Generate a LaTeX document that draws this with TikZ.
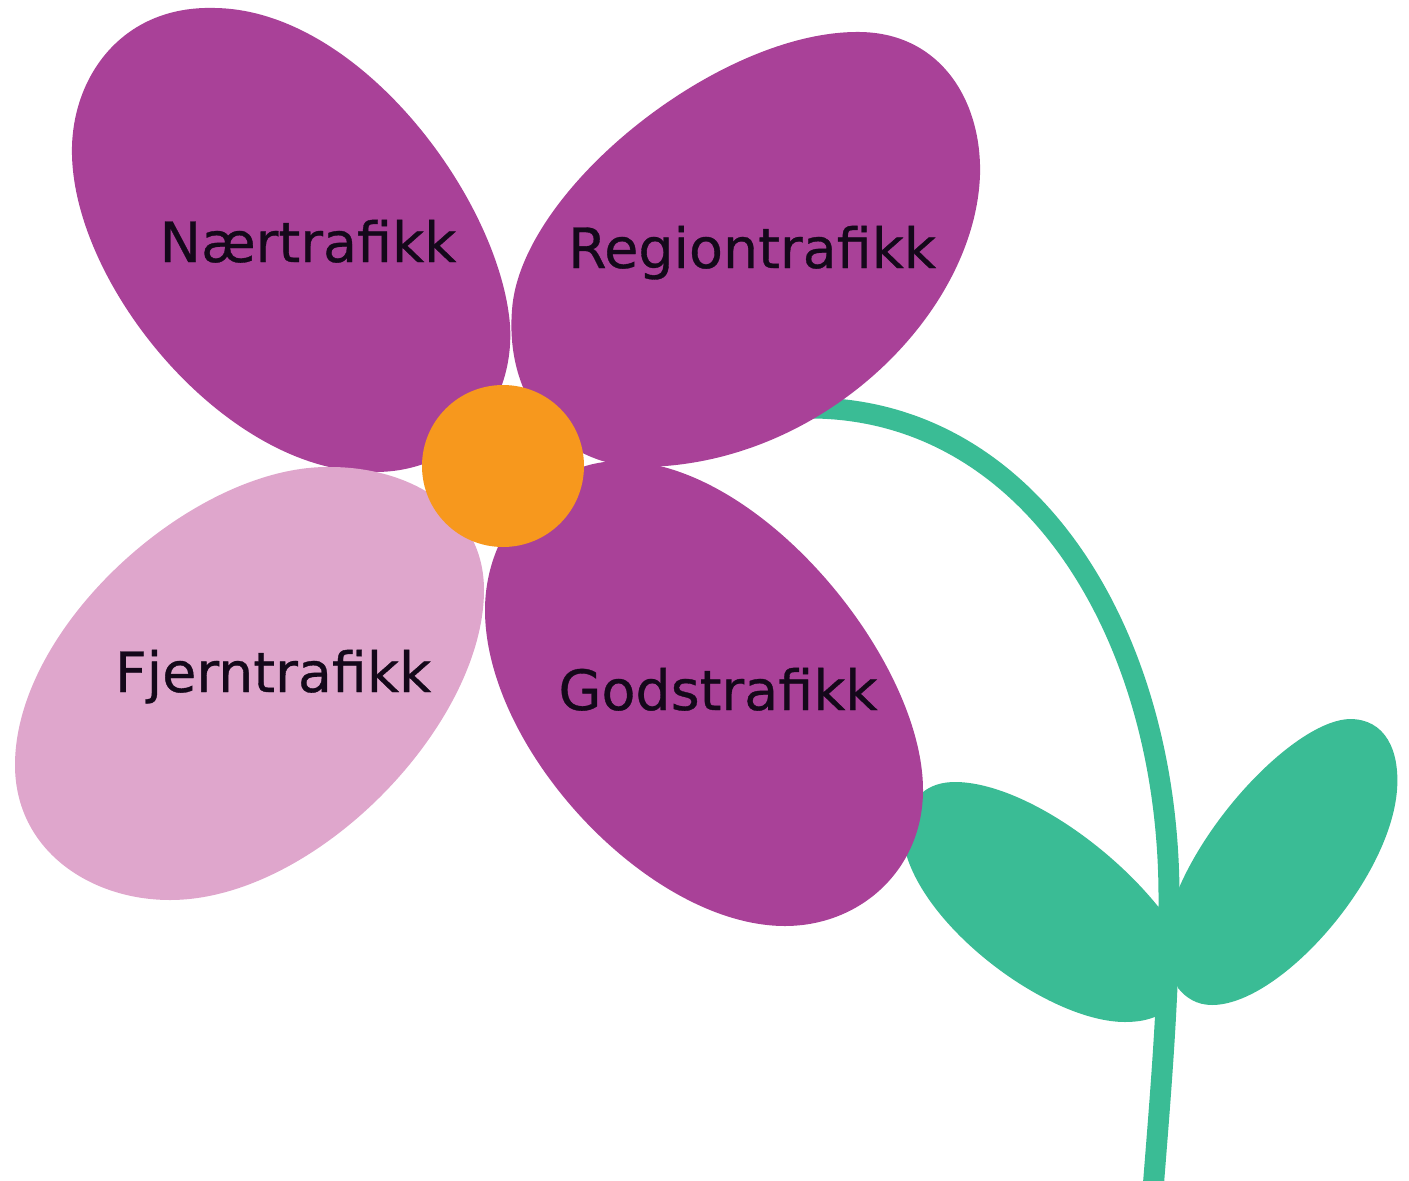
\documentclass[tikz,border=0pt]{standalone}
\usepackage{fontspec}
\setmainfont{DejaVu Sans}
\newfontfamily\lblfont[RawFeature={embolden=0.6}]{DejaVu Sans}
\definecolor{petal}{HTML}{A94198}
\definecolor{petallight}{HTML}{DFA6CC}
\definecolor{stemgreen}{HTML}{3ABC95}
\definecolor{core}{HTML}{F7981D}
\definecolor{ink}{HTML}{14081A}
\tikzset{
  lbl/.style={font=\lblfont\fontsize{55.5}{60}\selectfont,text=ink,inner sep=0pt,anchor=base},
  stemline/.style={draw=stemgreen,line width=21pt}
}
\begin{document}
\begin{tikzpicture}[x=1pt,y=-1pt]
\useasboundingbox (0,0) rectangle (1409,1181);
\clip (0,0) rectangle (1409,1181);
% stem
\draw[stemline] (770,408) -- (815,408) .. controls (1035,412) and (1170,640) .. (1169,900) .. controls (1169,1000) and (1160,1100) .. (1151,1215);
% leaves
\fill[stemgreen] (1172,925) .. controls (1120,850) and (1020,782) .. (955,782) .. controls (915,782) and (900,815) .. (905,850) .. controls (925,930) and (1050,1022) .. (1125,1022) .. controls (1138,1022) and (1148,1020) .. (1157,1016) -- (1176,990) -- cycle;
\fill[stemgreen] (1176,895) .. controls (1210,810) and (1300,720) .. (1350,719) .. controls (1385,719) and (1400,750) .. (1397,790) .. controls (1390,880) and (1280,1005) .. (1212,1005) .. controls (1197,1005) and (1186,998) .. (1178,988) -- (1165,950) -- cycle;
% petals
\fill[petal] (510,325) .. controls (500,200) and (360,10) .. (215,8) .. controls (120,5) and (70,80) .. (72,155) .. controls (75,290) and (230,475) .. (375,472) .. controls (460,472) and (515,405) .. (510,325) -- cycle;
\fill[petal] (512,310) .. controls (520,190) and (720,30) .. (860,32) .. controls (940,33) and (982,100) .. (980,175) .. controls (975,315) and (820,467) .. (640,467) .. controls (560,465) and (505,400) .. (512,310) -- cycle;
\fill[petallight] (330,467) .. controls (195,465) and (15,625) .. (15,765) .. controls (15,850) and (90,900) .. (170,900) .. controls (315,900) and (484,725) .. (484,590) .. controls (484,510) and (410,467) .. (330,467) -- cycle;
\fill[petal] (485,610) .. controls (485,530) and (545,461) .. (620,461) .. controls (760,461) and (923,660) .. (923,790) .. controls (923,870) and (860,926) .. (785,926) .. controls (650,926) and (485,750) .. (485,610) -- cycle;
% centre
\fill[core] (503,466) circle (81);
% labels
\node[lbl] (naer) at (308,262) {Nærtrafikk};
\node[lbl] (region) at (752,268) {Regiontrafikk};
\node[lbl] (fjern) at (273,692) {Fjerntrafikk};
\node[lbl] (gods) at (718,710) {Godstrafikk};
\end{tikzpicture}
\end{document}
